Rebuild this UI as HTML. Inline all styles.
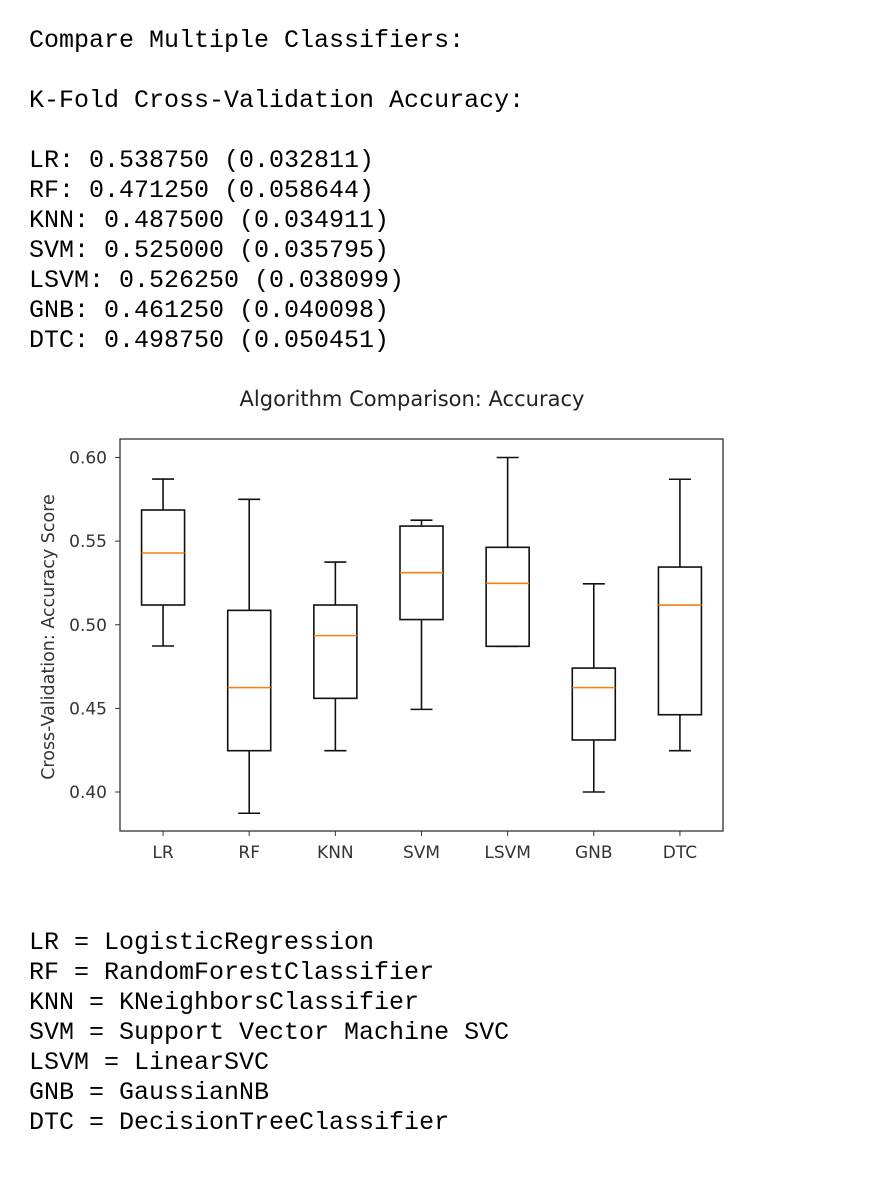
<!DOCTYPE html>
<html><head><meta charset="utf-8">
<style>
html,body{margin:0;padding:0;background:#fff;width:880px;height:1182px;overflow:hidden;position:relative}
.t{position:absolute;left:29px;font-family:"Liberation Mono","Courier New",monospace;font-size:25px;line-height:30px;color:#000;white-space:pre}
svg{position:absolute;left:0;top:0}
</style></head><body>
<div class="t" style="top:26px">Compare Multiple Classifiers:</div>
<div class="t" style="top:86px">K-Fold Cross-Validation Accuracy:</div>
<div class="t" style="top:146px">LR: 0.538750 (0.032811)
RF: 0.471250 (0.058644)
KNN: 0.487500 (0.034911)
SVM: 0.525000 (0.035795)
LSVM: 0.526250 (0.038099)
GNB: 0.461250 (0.040098)
DTC: 0.498750 (0.050451)</div>
<div class="t" style="top:928px">LR = LogisticRegression
RF = RandomForestClassifier
KNN = KNeighborsClassifier
SVM = Support Vector Machine SVC
LSVM = LinearSVC
GNB = GaussianNB
DTC = DecisionTreeClassifier</div>
<svg id="chart" width="880" height="1182"></svg>
<script>
const categories = ["LR","RF","KNN","SVM","LSVM","GNB","DTC"];
const lows    = [0.4873,0.3873,0.4247,0.4494,0.4871,0.4000,0.4247];
const q1s     = [0.5118,0.4247,0.4560,0.5031,0.4871,0.4311,0.4462];
const medians = [0.5429,0.4624,0.4935,0.5311,0.5248,0.4624,0.5118];
const q3s     = [0.5686,0.5086,0.5118,0.5590,0.5463,0.4741,0.5345];
const highs   = [0.5871,0.5750,0.5375,0.5625,0.6000,0.5245,0.5870];
const yTicks  = [0.40,0.45,0.50,0.55,0.60];

const NS="http://www.w3.org/2000/svg";
const svg=document.getElementById('chart');
const L=120,R=723,T=439,B=831;
function y(v){return 792-(v-0.40)*1672.5;}
function x(i){return L+(R-L)*(i+0.5)/categories.length;}
function mk(tag,attrs,parent){const e=document.createElementNS(NS,tag);for(const k in attrs)e.setAttribute(k,attrs[k]);(parent||svg).appendChild(e);return e;}
const font='"DejaVu Sans","Liberation Sans",sans-serif';

const title=mk('text',{x:412,y:406,'text-anchor':'middle','font-family':font,'font-size':'21','fill':'#222'});
title.textContent='Algorithm Comparison: Accuracy';



const frame=mk('rect',{x:L,y:T,width:R-L,height:B-T,fill:'none',stroke:'#333','stroke-width':1.3});



yTicks.forEach(v=>{
  const g=mk('g',{});
  
  
  mk('line',{x1:L-5,x2:L,y1:y(v),y2:y(v),stroke:'#333','stroke-width':1},g);
  const t=mk('text',{x:L-13,y:y(v)+6,'text-anchor':'end','font-family':font,'font-size':'17','fill':'#333'},g);
  t.textContent=v.toFixed(2);
});
const yl=mk('text',{x:0,y:0,transform:'translate(54,637) rotate(-90)','text-anchor':'middle','font-family':font,'font-size':'17.5','fill':'#333'});
yl.textContent='Cross-Validation: Accuracy Score';



const hw=21.5, cap=11;
categories.forEach((c,i)=>{
  const cx=x(i);
  const g=mk('g',{});
  
  
  const st={stroke:'#111','stroke-width':1.6,fill:'none'};
  mk('line',Object.assign({x1:cx,x2:cx,y1:y(highs[i]),y2:y(q3s[i])},st),g);
  mk('line',Object.assign({x1:cx,x2:cx,y1:y(q1s[i]),y2:y(lows[i])},st),g);
  mk('line',Object.assign({x1:cx-cap,x2:cx+cap,y1:y(highs[i]),y2:y(highs[i])},st),g);
  mk('line',Object.assign({x1:cx-cap,x2:cx+cap,y1:y(lows[i]),y2:y(lows[i])},st),g);
  mk('rect',Object.assign({x:cx-hw,y:y(q3s[i]),width:2*hw,height:y(q1s[i])-y(q3s[i])},st),g);
  mk('line',{x1:cx-hw,x2:cx+hw,y1:y(medians[i]),y2:y(medians[i]),stroke:'#ff7f0e','stroke-width':1.6},g);
  const tk=mk('g',{});
  
  
  mk('line',{x1:cx,x2:cx,y1:B,y2:B+5,stroke:'#333','stroke-width':1},tk);
  const t=mk('text',{x:cx,y:B+27,'text-anchor':'middle','font-family':font,'font-size':'17','fill':'#333'},tk);
  t.textContent=c;
});
</script>
</body></html>
